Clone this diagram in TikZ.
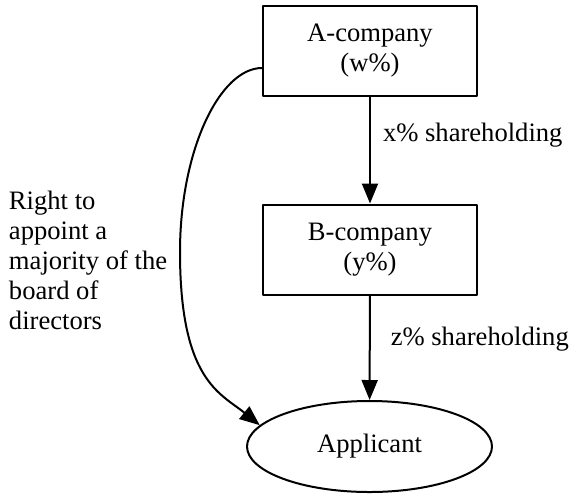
\documentclass[tikz,border=0pt]{standalone}
\usepackage{fontspec}
\setmainfont{Liberation Serif}
\usetikzlibrary{shapes.geometric, arrows.meta}

\begin{document}
\begin{tikzpicture}[line cap=round,line join=round,>={Triangle[length=10pt,width=8pt]},x=0.5pt,y=0.5pt,
  line width=1pt, font=\fontsize{13.3}{15}\selectfont,
  compbox/.style={draw, rectangle, minimum width=107pt, minimum height=45pt, align=center, inner sep=0pt},
  holder/.style={draw, ellipse, minimum width=122.5pt, minimum height=45.5pt, inner sep=0pt},
  sharelbl/.style={right, inner sep=0pt}]
\useasboundingbox (0,0) rectangle (572,495);
\node[compbox] (compA) at (370,444) {A-company\\(w\%)};
\node[compbox] (compB) at (370,245.5) {B-company\\(y\%)};
\node[holder] (applicant) at (369.5,48.5) {Applicant};
\node[anchor=west, align=left, inner sep=0pt] (rightlbl) at (8,235) {Right to\\appoint a\\majority of the\\board of\\directors};
\draw[->] (compA) -- node[sharelbl, pos=0.36, xshift=6pt] (xlbl) {x\% shareholding} (compB);
\draw[->] (compB) -- node[sharelbl, pos=0.42, xshift=10pt] (zlbl) {z\% shareholding} (applicant);
%\draw[->] (compA.west) to[out=180,in=150] (applicant);
\draw[->] ([yshift=-8.5pt]compA.west) .. controls (220,427) and (180,345) .. (180,243)
  .. controls (180,115) and (220,102) .. (applicant.169);
\end{tikzpicture}
\end{document}
